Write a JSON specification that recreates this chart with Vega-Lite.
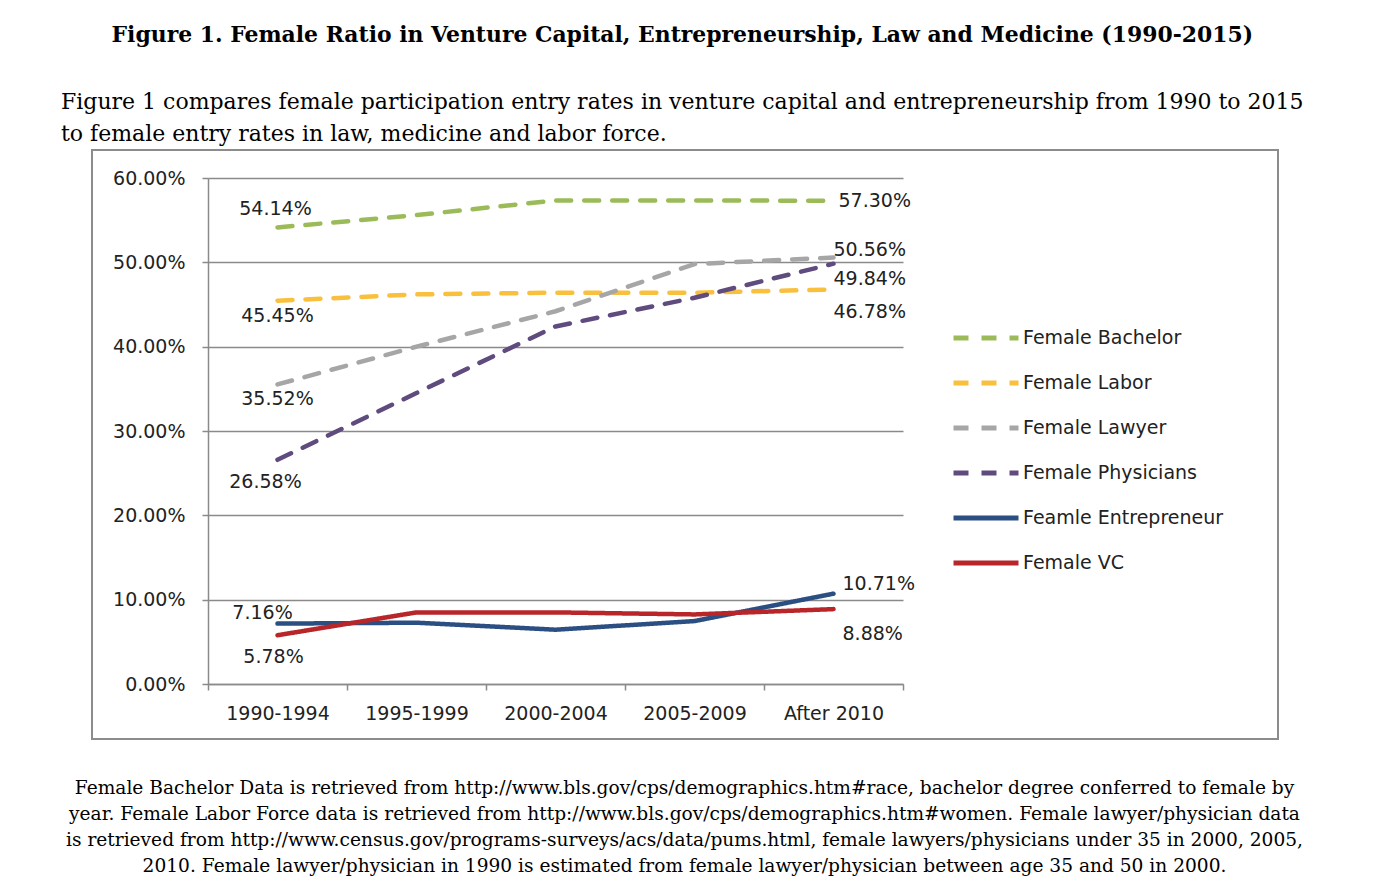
{
  "$schema": "https://vega.github.io/schema/vega-lite/v6.json",
  "background": "white",
  "padding": {"left": 60, "top": 24, "right": 0, "bottom": 0},
  "title": {
    "text": "Figure 1. Female Ratio in Venture Capital, Entrepreneurship, Law and Medicine (1990-2015)",
    "font": "DejaVu Serif", "fontSize": 21.9, "fontWeight": "bold", "color": "black",
    "anchor": "middle", "offset": 43
  },
  "vconcat": [
    {
      "width": 1186,
      "height": 589,
      "title": {
        "text": ["Figure 1 compares female participation entry rates in venture capital and entrepreneurship from 1990 to 2015", "to female entry rates in law, medicine and labor force."],
        "anchor": "start", "frame": "group", "dx": -31, "font": "DejaVu Serif", "fontSize": 22, "fontWeight": "normal",
        "lineHeight": 32, "offset": 4, "color": "black"
      },
      "data": {
        "values": [
          {"period": "1990-1994", "series": "Female Bachelor", "value": 0.5414},
          {"period": "1995-1999", "series": "Female Bachelor", "value": 0.556},
          {"period": "2000-2004", "series": "Female Bachelor", "value": 0.5734},
          {"period": "2005-2009", "series": "Female Bachelor", "value": 0.5734},
          {"period": "After 2010", "series": "Female Bachelor", "value": 0.573},
          {"period": "1990-1994", "series": "Female Labor", "value": 0.4545},
          {"period": "1995-1999", "series": "Female Labor", "value": 0.462},
          {"period": "2000-2004", "series": "Female Labor", "value": 0.464},
          {"period": "2005-2009", "series": "Female Labor", "value": 0.464},
          {"period": "After 2010", "series": "Female Labor", "value": 0.4678},
          {"period": "1990-1994", "series": "Female Lawyer", "value": 0.3552},
          {"period": "1995-1999", "series": "Female Lawyer", "value": 0.400},
          {"period": "2000-2004", "series": "Female Lawyer", "value": 0.442},
          {"period": "2005-2009", "series": "Female Lawyer", "value": 0.498},
          {"period": "After 2010", "series": "Female Lawyer", "value": 0.5056},
          {"period": "1990-1994", "series": "Female Physicians", "value": 0.2658},
          {"period": "1995-1999", "series": "Female Physicians", "value": 0.345},
          {"period": "2000-2004", "series": "Female Physicians", "value": 0.424},
          {"period": "2005-2009", "series": "Female Physicians", "value": 0.458},
          {"period": "After 2010", "series": "Female Physicians", "value": 0.4984},
          {"period": "1990-1994", "series": "Feamle Entrepreneur", "value": 0.0716},
          {"period": "1995-1999", "series": "Feamle Entrepreneur", "value": 0.0727},
          {"period": "2000-2004", "series": "Feamle Entrepreneur", "value": 0.0644},
          {"period": "2005-2009", "series": "Feamle Entrepreneur", "value": 0.0746},
          {"period": "After 2010", "series": "Feamle Entrepreneur", "value": 0.1071},
          {"period": "1990-1994", "series": "Female VC", "value": 0.0578},
          {"period": "1995-1999", "series": "Female VC", "value": 0.0849},
          {"period": "2000-2004", "series": "Female VC", "value": 0.0849},
          {"period": "2005-2009", "series": "Female VC", "value": 0.0825},
          {"period": "After 2010", "series": "Female VC", "value": 0.0888}
        ]
      },
      "encoding": {
        "x": {
          "field": "period", "type": "nominal", "sort": null, "bandPosition": 0.5,
          "scale": {"type": "band", "domain": ["1990-1994", "1995-1999", "2000-2004", "2005-2009", "After 2010"], "range": [116, 811], "paddingInner": 0, "paddingOuter": 0},
          "axis": {
            "orient": "bottom", "offset": -55, "tickBand": "extent", "labelAngle": 0,
            "domainColor": "#8a8a8a", "domainWidth": 1.5, "tickColor": "#8a8a8a", "tickWidth": 1.5, "tickSize": 6,
            "labelFont": "DejaVu Sans", "labelFontSize": 19, "labelColor": "#222222", "labelPadding": 14,
            "grid": false,
            "title": ["Female Bachelor Data is retrieved from http://www.bls.gov/cps/demographics.htm#race, bachelor degree conferred to female by", "year. Female Labor Force data is retrieved from http://www.bls.gov/cps/demographics.htm#women. Female lawyer/physician data", "is retrieved from http://www.census.gov/programs-surveys/acs/data/pums.html, female lawyers/physicians under 35 in 2000, 2005,", "2010. Female lawyer/physician in 1990 is estimated from female lawyer/physician between age 35 and 50 in 2000."],
            "titleFont": "DejaVu Serif", "titleFontSize": 18.6, "titleFontWeight": "normal", "titleColor": "black",
            "titleLineHeight": 26, "titleX": 592, "titleY": 94, "titleBaseline": "top", "titleAlign": "center"
          }
        },
        "y": {
          "field": "value", "type": "quantitative",
          "scale": {"domain": [0, 0.6], "range": [534, 28], "nice": false, "zero": true},
          "axis": {
            "orient": "left", "offset": -116, "values": [0, 0.1, 0.2, 0.3, 0.4, 0.5, 0.6], "format": ".2%",
            "grid": true, "gridColor": "#8a8a8a", "gridWidth": 1.5,
            "domainColor": "#8a8a8a", "domainWidth": 1.5, "tickColor": "#8a8a8a", "tickWidth": 1.5, "tickSize": 6,
            "labelFont": "DejaVu Sans", "labelFontSize": 19, "labelColor": "#222222", "labelPadding": 17,
            "title": null
          }
        }
      },
      "layer": [
        {
          "mark": {"type": "line", "strokeWidth": 4.5, "strokeCap": "round", "strokeJoin": "round"},
          "encoding": {
            "color": {
              "field": "series", "type": "nominal",
              "scale": {"domain": ["Female Bachelor", "Female Labor", "Female Lawyer", "Female Physicians", "Feamle Entrepreneur", "Female VC"], "range": ["#9BBB59", "#F9C03E", "#A6A6A6", "#5F4B7D", "#2B4F82", "#B8262A"]},
              "legend": {
                "title": null, "orient": "none", "legendX": 859, "legendY": 153,
                "symbolType": "stroke", "symbolSize": 4225, "symbolStrokeWidth": 5,
                "labelFont": "DejaVu Sans", "labelFontSize": 19, "labelColor": "#222222", "labelOffset": 2, "labelLimit": 400, "rowPadding": -1
              }
            },
            "strokeDash": {
              "field": "series", "type": "nominal",
              "scale": {"domain": ["Female Bachelor", "Female Labor", "Female Lawyer", "Female Physicians", "Feamle Entrepreneur", "Female VC"], "range": [[15, 13], [15, 13], [15, 13], [15, 13], [1, 0], [1, 0]]},
              "legend": {
                "title": null, "orient": "none", "legendX": 859, "legendY": 153,
                "symbolType": "stroke", "symbolSize": 4225, "symbolStrokeWidth": 5,
                "labelFont": "DejaVu Sans", "labelFontSize": 19, "labelColor": "#222222", "labelOffset": 2, "labelLimit": 400, "rowPadding": -1
              }
            }
          }
        },
        {
          "transform": [{"filter": "datum.period == '1990-1994' && datum.series == 'Female Bachelor'"}],
          "mark": {"type": "text", "font": "DejaVu Sans", "fontSize": 19, "color": "#222222", "align": "center", "dx": -2, "dy": -18},
          "encoding": {"text": {"field": "value", "type": "quantitative", "format": ".2%"}}
        },
        {
          "transform": [{"filter": "datum.period == '1990-1994' && datum.series == 'Feamle Entrepreneur'"}],
          "mark": {"type": "text", "font": "DejaVu Sans", "fontSize": 19, "color": "#222222", "align": "center", "dx": -15, "dy": -11},
          "encoding": {"text": {"field": "value", "type": "quantitative", "format": ".2%"}}
        },
        {
          "transform": [{"filter": "datum.period == '1990-1994' && (datum.series == 'Female Labor' || datum.series == 'Female Lawyer')"}],
          "mark": {"type": "text", "font": "DejaVu Sans", "fontSize": 19, "color": "#222222", "align": "center", "dx": 0, "dy": 15},
          "encoding": {"text": {"field": "value", "type": "quantitative", "format": ".2%"}}
        },
        {
          "transform": [{"filter": "datum.period == '1990-1994' && datum.series == 'Female Physicians'"}],
          "mark": {"type": "text", "font": "DejaVu Sans", "fontSize": 19, "color": "#222222", "align": "center", "dx": -12, "dy": 22},
          "encoding": {"text": {"field": "value", "type": "quantitative", "format": ".2%"}}
        },
        {
          "transform": [{"filter": "datum.period == '1990-1994' && datum.series == 'Female VC'"}],
          "mark": {"type": "text", "font": "DejaVu Sans", "fontSize": 19, "color": "#222222", "align": "center", "dx": -4, "dy": 22},
          "encoding": {"text": {"field": "value", "type": "quantitative", "format": ".2%"}}
        },
        {
          "transform": [{"filter": "datum.period == 'After 2010' && datum.series == 'Female Bachelor'"}],
          "mark": {"type": "text", "font": "DejaVu Sans", "fontSize": 19, "color": "#222222", "align": "left", "dx": 5, "dy": 0},
          "encoding": {"text": {"field": "value", "type": "quantitative", "format": ".2%"}}
        },
        {
          "transform": [{"filter": "datum.period == 'After 2010' && datum.series == 'Female Lawyer'"}],
          "mark": {"type": "text", "font": "DejaVu Sans", "fontSize": 19, "color": "#222222", "align": "left", "dx": 0, "dy": -8},
          "encoding": {"text": {"field": "value", "type": "quantitative", "format": ".2%"}}
        },
        {
          "transform": [{"filter": "datum.period == 'After 2010' && datum.series == 'Female Physicians'"}],
          "mark": {"type": "text", "font": "DejaVu Sans", "fontSize": 19, "color": "#222222", "align": "left", "dx": 0, "dy": 15},
          "encoding": {"text": {"field": "value", "type": "quantitative", "format": ".2%"}}
        },
        {
          "transform": [{"filter": "datum.period == 'After 2010' && datum.series == 'Female Labor'"}],
          "mark": {"type": "text", "font": "DejaVu Sans", "fontSize": 19, "color": "#222222", "align": "left", "dx": 0, "dy": 23},
          "encoding": {"text": {"field": "value", "type": "quantitative", "format": ".2%"}}
        },
        {
          "transform": [{"filter": "datum.period == 'After 2010' && datum.series == 'Feamle Entrepreneur'"}],
          "mark": {"type": "text", "font": "DejaVu Sans", "fontSize": 19, "color": "#222222", "align": "left", "dx": 9, "dy": -10},
          "encoding": {"text": {"field": "value", "type": "quantitative", "format": ".2%"}}
        },
        {
          "transform": [{"filter": "datum.period == 'After 2010' && datum.series == 'Female VC'"}],
          "mark": {"type": "text", "font": "DejaVu Sans", "fontSize": 19, "color": "#222222", "align": "left", "dx": 9, "dy": 25},
          "encoding": {"text": {"field": "value", "type": "quantitative", "format": ".2%"}}
        }
      ]
    }
  ],
  "config": {
    "view": {"stroke": "#8c8c8c", "strokeWidth": 2},
    "concat": {"spacing": 0}
  }
}
